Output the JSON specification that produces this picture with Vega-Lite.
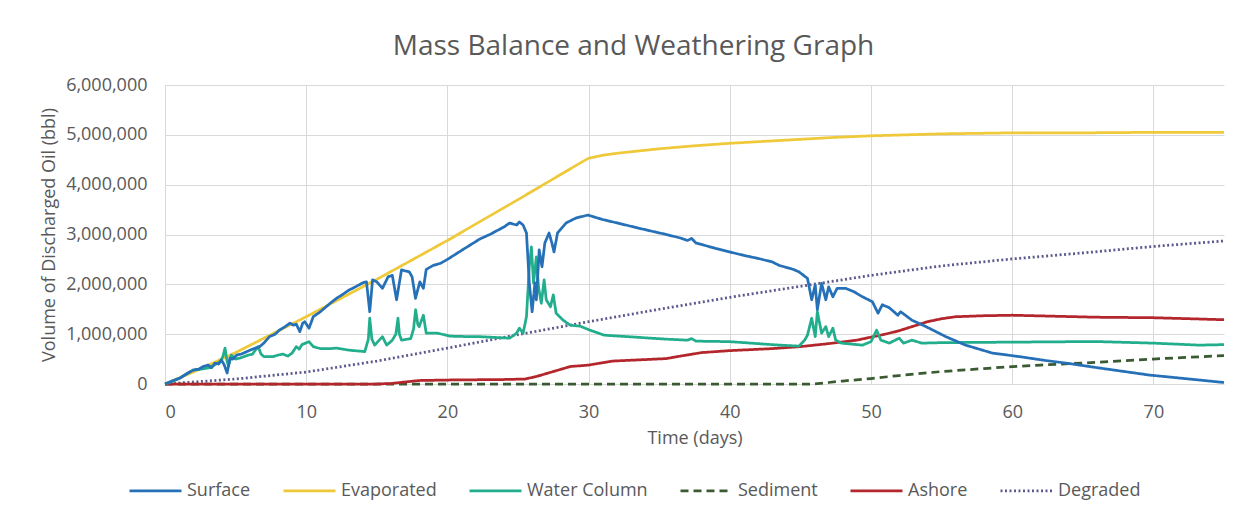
{
  "$schema": "https://vega.github.io/schema/vega-lite/v6.json",
  "width": 1059,
  "height": 299,
  "autosize": {"type": "none"},
  "padding": {"left": 165, "top": 85, "right": 30, "bottom": 131},
  "background": "white",
  "config": {
    "view": {"stroke": null},
    "font": "Open Sans",
    "legend": {
      "title": null,
      "orient": "none",
      "legendX": -37,
      "legendY": 378,
      "direction": "horizontal",
      "symbolType": "stroke",
      "symbolSize": 2704,
      "symbolStrokeWidth": 2.75,
      "labelFontSize": 18,
      "labelColor": "#595959",
      "labelOffset": 4,
      "columnPadding": 27
    }
  },
  "title": {
    "text": "Mass Balance and Weathering Graph",
    "fontSize": 28,
    "fontWeight": "normal",
    "color": "#595959",
    "offset": 15,
    "dx": -61,
    "anchor": "middle"
  },
  "datasets": {
    "rows": [
      {"series": "Evaporated", "day": 0, "volume": 0},
      {"series": "Evaporated", "day": 2, "volume": 240000},
      {"series": "Evaporated", "day": 5, "volume": 630000},
      {"series": "Evaporated", "day": 10, "volume": 1350000},
      {"series": "Evaporated", "day": 15, "volume": 2100000},
      {"series": "Evaporated", "day": 20, "volume": 2880000},
      {"series": "Evaporated", "day": 25, "volume": 3700000},
      {"series": "Evaporated", "day": 29.5, "volume": 4450000},
      {"series": "Evaporated", "day": 30, "volume": 4530000},
      {"series": "Evaporated", "day": 31, "volume": 4590000},
      {"series": "Evaporated", "day": 32, "volume": 4630000},
      {"series": "Evaporated", "day": 33, "volume": 4660000},
      {"series": "Evaporated", "day": 35, "volume": 4720000},
      {"series": "Evaporated", "day": 37.5, "volume": 4780000},
      {"series": "Evaporated", "day": 40, "volume": 4830000},
      {"series": "Evaporated", "day": 42.5, "volume": 4870000},
      {"series": "Evaporated", "day": 45, "volume": 4910000},
      {"series": "Evaporated", "day": 47.5, "volume": 4950000},
      {"series": "Evaporated", "day": 50, "volume": 4980000},
      {"series": "Evaporated", "day": 52.5, "volume": 5000000},
      {"series": "Evaporated", "day": 55, "volume": 5020000},
      {"series": "Evaporated", "day": 60, "volume": 5040000},
      {"series": "Evaporated", "day": 65, "volume": 5040000},
      {"series": "Evaporated", "day": 70, "volume": 5050000},
      {"series": "Evaporated", "day": 75, "volume": 5050000},

      {"series": "Degraded", "day": 0, "volume": 0},
      {"series": "Degraded", "day": 5, "volume": 100000},
      {"series": "Degraded", "day": 10, "volume": 240000},
      {"series": "Degraded", "day": 15, "volume": 460000},
      {"series": "Degraded", "day": 20, "volume": 720000},
      {"series": "Degraded", "day": 25, "volume": 990000},
      {"series": "Degraded", "day": 30, "volume": 1250000},
      {"series": "Degraded", "day": 35, "volume": 1500000},
      {"series": "Degraded", "day": 40, "volume": 1740000},
      {"series": "Degraded", "day": 45, "volume": 1960000},
      {"series": "Degraded", "day": 50, "volume": 2180000},
      {"series": "Degraded", "day": 55, "volume": 2370000},
      {"series": "Degraded", "day": 60, "volume": 2510000},
      {"series": "Degraded", "day": 65, "volume": 2630000},
      {"series": "Degraded", "day": 70, "volume": 2760000},
      {"series": "Degraded", "day": 75, "volume": 2870000},

      {"series": "Sediment", "day": 0, "volume": 0},
      {"series": "Sediment", "day": 46, "volume": 0},
      {"series": "Sediment", "day": 47, "volume": 30000},
      {"series": "Sediment", "day": 48, "volume": 60000},
      {"series": "Sediment", "day": 50, "volume": 110000},
      {"series": "Sediment", "day": 52, "volume": 170000},
      {"series": "Sediment", "day": 55, "volume": 250000},
      {"series": "Sediment", "day": 58, "volume": 310000},
      {"series": "Sediment", "day": 60, "volume": 350000},
      {"series": "Sediment", "day": 62, "volume": 380000},
      {"series": "Sediment", "day": 65, "volume": 420000},
      {"series": "Sediment", "day": 68, "volume": 470000},
      {"series": "Sediment", "day": 70, "volume": 500000},
      {"series": "Sediment", "day": 72, "volume": 530000},
      {"series": "Sediment", "day": 75, "volume": 570000},

      {"series": "Ashore", "day": 0, "volume": 0},
      {"series": "Ashore", "day": 15, "volume": 0},
      {"series": "Ashore", "day": 16, "volume": 10000},
      {"series": "Ashore", "day": 17, "volume": 40000},
      {"series": "Ashore", "day": 18, "volume": 70000},
      {"series": "Ashore", "day": 20, "volume": 80000},
      {"series": "Ashore", "day": 24, "volume": 90000},
      {"series": "Ashore", "day": 25.5, "volume": 100000},
      {"series": "Ashore", "day": 26.3, "volume": 150000},
      {"series": "Ashore", "day": 27.5, "volume": 250000},
      {"series": "Ashore", "day": 28.7, "volume": 350000},
      {"series": "Ashore", "day": 30, "volume": 380000},
      {"series": "Ashore", "day": 31.7, "volume": 460000},
      {"series": "Ashore", "day": 34, "volume": 490000},
      {"series": "Ashore", "day": 35.5, "volume": 510000},
      {"series": "Ashore", "day": 36.5, "volume": 560000},
      {"series": "Ashore", "day": 38, "volume": 630000},
      {"series": "Ashore", "day": 40, "volume": 670000},
      {"series": "Ashore", "day": 43, "volume": 710000},
      {"series": "Ashore", "day": 45, "volume": 750000},
      {"series": "Ashore", "day": 47, "volume": 810000},
      {"series": "Ashore", "day": 49, "volume": 880000},
      {"series": "Ashore", "day": 50, "volume": 940000},
      {"series": "Ashore", "day": 51, "volume": 1000000},
      {"series": "Ashore", "day": 52, "volume": 1070000},
      {"series": "Ashore", "day": 53, "volume": 1160000},
      {"series": "Ashore", "day": 54, "volume": 1250000},
      {"series": "Ashore", "day": 55, "volume": 1310000},
      {"series": "Ashore", "day": 56, "volume": 1350000},
      {"series": "Ashore", "day": 58, "volume": 1370000},
      {"series": "Ashore", "day": 60, "volume": 1380000},
      {"series": "Ashore", "day": 63, "volume": 1360000},
      {"series": "Ashore", "day": 66, "volume": 1340000},
      {"series": "Ashore", "day": 70, "volume": 1330000},
      {"series": "Ashore", "day": 75, "volume": 1290000},

      {"series": "Water Column", "day": 0, "volume": 0},
      {"series": "Water Column", "day": 0.5, "volume": 50000},
      {"series": "Water Column", "day": 1.06, "volume": 120000},
      {"series": "Water Column", "day": 2.0, "volume": 280000},
      {"series": "Water Column", "day": 2.6, "volume": 300000},
      {"series": "Water Column", "day": 3.2, "volume": 330000},
      {"series": "Water Column", "day": 3.5, "volume": 380000},
      {"series": "Water Column", "day": 3.9, "volume": 450000},
      {"series": "Water Column", "day": 4.1, "volume": 550000},
      {"series": "Water Column", "day": 4.25, "volume": 720000},
      {"series": "Water Column", "day": 4.4, "volume": 450000},
      {"series": "Water Column", "day": 4.5, "volume": 360000},
      {"series": "Water Column", "day": 4.7, "volume": 580000},
      {"series": "Water Column", "day": 5.0, "volume": 500000},
      {"series": "Water Column", "day": 5.3, "volume": 520000},
      {"series": "Water Column", "day": 5.6, "volume": 550000},
      {"series": "Water Column", "day": 5.9, "volume": 580000},
      {"series": "Water Column", "day": 6.2, "volume": 600000},
      {"series": "Water Column", "day": 6.4, "volume": 680000},
      {"series": "Water Column", "day": 6.6, "volume": 750000},
      {"series": "Water Column", "day": 6.8, "volume": 600000},
      {"series": "Water Column", "day": 7.0, "volume": 550000},
      {"series": "Water Column", "day": 7.65, "volume": 550000},
      {"series": "Water Column", "day": 8.0, "volume": 580000},
      {"series": "Water Column", "day": 8.35, "volume": 600000},
      {"series": "Water Column", "day": 8.7, "volume": 560000},
      {"series": "Water Column", "day": 9.0, "volume": 620000},
      {"series": "Water Column", "day": 9.3, "volume": 750000},
      {"series": "Water Column", "day": 9.5, "volume": 700000},
      {"series": "Water Column", "day": 9.7, "volume": 790000},
      {"series": "Water Column", "day": 10.2, "volume": 850000},
      {"series": "Water Column", "day": 10.5, "volume": 750000},
      {"series": "Water Column", "day": 11, "volume": 710000},
      {"series": "Water Column", "day": 11.7, "volume": 710000},
      {"series": "Water Column", "day": 12.15, "volume": 720000},
      {"series": "Water Column", "day": 13, "volume": 680000},
      {"series": "Water Column", "day": 14.15, "volume": 650000},
      {"series": "Water Column", "day": 14.4, "volume": 900000},
      {"series": "Water Column", "day": 14.5, "volume": 1320000},
      {"series": "Water Column", "day": 14.65, "volume": 900000},
      {"series": "Water Column", "day": 14.85, "volume": 780000},
      {"series": "Water Column", "day": 15.4, "volume": 950000},
      {"series": "Water Column", "day": 15.7, "volume": 780000},
      {"series": "Water Column", "day": 16.1, "volume": 880000},
      {"series": "Water Column", "day": 16.35, "volume": 1000000},
      {"series": "Water Column", "day": 16.5, "volume": 1320000},
      {"series": "Water Column", "day": 16.6, "volume": 1000000},
      {"series": "Water Column", "day": 16.75, "volume": 880000},
      {"series": "Water Column", "day": 17.4, "volume": 910000},
      {"series": "Water Column", "day": 17.6, "volume": 1100000},
      {"series": "Water Column", "day": 17.75, "volume": 1490000},
      {"series": "Water Column", "day": 17.9, "volume": 1200000},
      {"series": "Water Column", "day": 18.0, "volume": 1150000},
      {"series": "Water Column", "day": 18.3, "volume": 1380000},
      {"series": "Water Column", "day": 18.5, "volume": 1020000},
      {"series": "Water Column", "day": 19.3, "volume": 1020000},
      {"series": "Water Column", "day": 20.2, "volume": 960000},
      {"series": "Water Column", "day": 21.6, "volume": 950000},
      {"series": "Water Column", "day": 22.3, "volume": 950000},
      {"series": "Water Column", "day": 24.4, "volume": 920000},
      {"series": "Water Column", "day": 24.9, "volume": 1020000},
      {"series": "Water Column", "day": 25.1, "volume": 1120000},
      {"series": "Water Column", "day": 25.36, "volume": 1020000},
      {"series": "Water Column", "day": 25.6, "volume": 1350000},
      {"series": "Water Column", "day": 25.8, "volume": 2350000},
      {"series": "Water Column", "day": 25.95, "volume": 2750000},
      {"series": "Water Column", "day": 26.1, "volume": 2030000},
      {"series": "Water Column", "day": 26.3, "volume": 2550000},
      {"series": "Water Column", "day": 26.45, "volume": 1950000},
      {"series": "Water Column", "day": 26.65, "volume": 1620000},
      {"series": "Water Column", "day": 26.85, "volume": 2090000},
      {"series": "Water Column", "day": 27.0, "volume": 1690000},
      {"series": "Water Column", "day": 27.3, "volume": 1550000},
      {"series": "Water Column", "day": 27.5, "volume": 1790000},
      {"series": "Water Column", "day": 27.7, "volume": 1420000},
      {"series": "Water Column", "day": 28.2, "volume": 1280000},
      {"series": "Water Column", "day": 28.7, "volume": 1180000},
      {"series": "Water Column", "day": 29.4, "volume": 1160000},
      {"series": "Water Column", "day": 30.1, "volume": 1080000},
      {"series": "Water Column", "day": 31.1, "volume": 980000},
      {"series": "Water Column", "day": 32.2, "volume": 960000},
      {"series": "Water Column", "day": 35.5, "volume": 900000},
      {"series": "Water Column", "day": 37, "volume": 880000},
      {"series": "Water Column", "day": 37.3, "volume": 910000},
      {"series": "Water Column", "day": 37.6, "volume": 860000},
      {"series": "Water Column", "day": 40, "volume": 850000},
      {"series": "Water Column", "day": 43.5, "volume": 780000},
      {"series": "Water Column", "day": 44.9, "volume": 760000},
      {"series": "Water Column", "day": 45.3, "volume": 880000},
      {"series": "Water Column", "day": 45.5, "volume": 980000},
      {"series": "Water Column", "day": 45.8, "volume": 1320000},
      {"series": "Water Column", "day": 46.05, "volume": 950000},
      {"series": "Water Column", "day": 46.2, "volume": 1450000},
      {"series": "Water Column", "day": 46.5, "volume": 1020000},
      {"series": "Water Column", "day": 46.8, "volume": 1150000},
      {"series": "Water Column", "day": 47.0, "volume": 950000},
      {"series": "Water Column", "day": 47.3, "volume": 1120000},
      {"series": "Water Column", "day": 47.5, "volume": 880000},
      {"series": "Water Column", "day": 47.9, "volume": 820000},
      {"series": "Water Column", "day": 49.4, "volume": 780000},
      {"series": "Water Column", "day": 50.0, "volume": 850000},
      {"series": "Water Column", "day": 50.4, "volume": 1080000},
      {"series": "Water Column", "day": 50.7, "volume": 880000},
      {"series": "Water Column", "day": 51.3, "volume": 820000},
      {"series": "Water Column", "day": 52.0, "volume": 920000},
      {"series": "Water Column", "day": 52.3, "volume": 820000},
      {"series": "Water Column", "day": 52.9, "volume": 880000},
      {"series": "Water Column", "day": 53.6, "volume": 820000},
      {"series": "Water Column", "day": 55, "volume": 830000},
      {"series": "Water Column", "day": 60, "volume": 840000},
      {"series": "Water Column", "day": 64.8, "volume": 850000},
      {"series": "Water Column", "day": 66.2, "volume": 850000},
      {"series": "Water Column", "day": 70, "volume": 820000},
      {"series": "Water Column", "day": 73.25, "volume": 780000},
      {"series": "Water Column", "day": 75, "volume": 790000},

      {"series": "Surface", "day": 0, "volume": 0},
      {"series": "Surface", "day": 0.5, "volume": 60000},
      {"series": "Surface", "day": 1.06, "volume": 120000},
      {"series": "Surface", "day": 1.5, "volume": 200000},
      {"series": "Surface", "day": 2.0, "volume": 280000},
      {"series": "Surface", "day": 2.4, "volume": 300000},
      {"series": "Surface", "day": 2.7, "volume": 350000},
      {"series": "Surface", "day": 3.05, "volume": 380000},
      {"series": "Surface", "day": 3.3, "volume": 330000},
      {"series": "Surface", "day": 3.54, "volume": 420000},
      {"series": "Surface", "day": 3.8, "volume": 400000},
      {"series": "Surface", "day": 4.0, "volume": 480000},
      {"series": "Surface", "day": 4.2, "volume": 380000},
      {"series": "Surface", "day": 4.4, "volume": 220000},
      {"series": "Surface", "day": 4.6, "volume": 520000},
      {"series": "Surface", "day": 4.8, "volume": 500000},
      {"series": "Surface", "day": 5.07, "volume": 580000},
      {"series": "Surface", "day": 5.4, "volume": 600000},
      {"series": "Surface", "day": 5.8, "volume": 650000},
      {"series": "Surface", "day": 6.2, "volume": 700000},
      {"series": "Surface", "day": 6.7, "volume": 750000},
      {"series": "Surface", "day": 7.0, "volume": 820000},
      {"series": "Surface", "day": 7.4, "volume": 950000},
      {"series": "Surface", "day": 7.8, "volume": 1000000},
      {"series": "Surface", "day": 8.1, "volume": 1080000},
      {"series": "Surface", "day": 8.5, "volume": 1150000},
      {"series": "Surface", "day": 8.85, "volume": 1220000},
      {"series": "Surface", "day": 9.1, "volume": 1180000},
      {"series": "Surface", "day": 9.3, "volume": 1200000},
      {"series": "Surface", "day": 9.55, "volume": 1050000},
      {"series": "Surface", "day": 9.75, "volume": 1220000},
      {"series": "Surface", "day": 9.9, "volume": 1250000},
      {"series": "Surface", "day": 10.2, "volume": 1120000},
      {"series": "Surface", "day": 10.5, "volume": 1350000},
      {"series": "Surface", "day": 11, "volume": 1450000},
      {"series": "Surface", "day": 11.7, "volume": 1620000},
      {"series": "Surface", "day": 12.15, "volume": 1720000},
      {"series": "Surface", "day": 12.6, "volume": 1800000},
      {"series": "Surface", "day": 13, "volume": 1880000},
      {"series": "Surface", "day": 13.5, "volume": 1950000},
      {"series": "Surface", "day": 14, "volume": 2030000},
      {"series": "Surface", "day": 14.27, "volume": 2050000},
      {"series": "Surface", "day": 14.5, "volume": 1450000},
      {"series": "Surface", "day": 14.7, "volume": 2090000},
      {"series": "Surface", "day": 15.0, "volume": 2050000},
      {"series": "Surface", "day": 15.4, "volume": 1920000},
      {"series": "Surface", "day": 15.8, "volume": 2150000},
      {"series": "Surface", "day": 16.1, "volume": 2180000},
      {"series": "Surface", "day": 16.4, "volume": 1690000},
      {"series": "Surface", "day": 16.75, "volume": 2290000},
      {"series": "Surface", "day": 17.0, "volume": 2270000},
      {"series": "Surface", "day": 17.3, "volume": 2250000},
      {"series": "Surface", "day": 17.5, "volume": 2150000},
      {"series": "Surface", "day": 17.74, "volume": 1720000},
      {"series": "Surface", "day": 18.05, "volume": 2050000},
      {"series": "Surface", "day": 18.3, "volume": 1920000},
      {"series": "Surface", "day": 18.5, "volume": 2300000},
      {"series": "Surface", "day": 19.0, "volume": 2380000},
      {"series": "Surface", "day": 19.5, "volume": 2420000},
      {"series": "Surface", "day": 20, "volume": 2500000},
      {"series": "Surface", "day": 21, "volume": 2680000},
      {"series": "Surface", "day": 22.3, "volume": 2910000},
      {"series": "Surface", "day": 23, "volume": 3000000},
      {"series": "Surface", "day": 24, "volume": 3150000},
      {"series": "Surface", "day": 24.4, "volume": 3230000},
      {"series": "Surface", "day": 24.9, "volume": 3190000},
      {"series": "Surface", "day": 25.1, "volume": 3250000},
      {"series": "Surface", "day": 25.36, "volume": 3190000},
      {"series": "Surface", "day": 25.6, "volume": 3030000},
      {"series": "Surface", "day": 25.8, "volume": 2030000},
      {"series": "Surface", "day": 26.0, "volume": 1450000},
      {"series": "Surface", "day": 26.2, "volume": 2030000},
      {"series": "Surface", "day": 26.3, "volume": 1690000},
      {"series": "Surface", "day": 26.5, "volume": 2690000},
      {"series": "Surface", "day": 26.7, "volume": 2350000},
      {"series": "Surface", "day": 26.9, "volume": 2830000},
      {"series": "Surface", "day": 27.2, "volume": 3030000},
      {"series": "Surface", "day": 27.4, "volume": 2830000},
      {"series": "Surface", "day": 27.55, "volume": 2650000},
      {"series": "Surface", "day": 27.8, "volume": 3030000},
      {"series": "Surface", "day": 28.4, "volume": 3230000},
      {"series": "Surface", "day": 29.1, "volume": 3330000},
      {"series": "Surface", "day": 29.95, "volume": 3390000},
      {"series": "Surface", "day": 31, "volume": 3300000},
      {"series": "Surface", "day": 32.2, "volume": 3220000},
      {"series": "Surface", "day": 33.5, "volume": 3130000},
      {"series": "Surface", "day": 35.5, "volume": 3000000},
      {"series": "Surface", "day": 36.5, "volume": 2930000},
      {"series": "Surface", "day": 37, "volume": 2880000},
      {"series": "Surface", "day": 37.3, "volume": 2920000},
      {"series": "Surface", "day": 37.6, "volume": 2830000},
      {"series": "Surface", "day": 38, "volume": 2800000},
      {"series": "Surface", "day": 39, "volume": 2720000},
      {"series": "Surface", "day": 40, "volume": 2650000},
      {"series": "Surface", "day": 41, "volume": 2580000},
      {"series": "Surface", "day": 42, "volume": 2520000},
      {"series": "Surface", "day": 43, "volume": 2450000},
      {"series": "Surface", "day": 43.5, "volume": 2380000},
      {"series": "Surface", "day": 44.5, "volume": 2300000},
      {"series": "Surface", "day": 44.9, "volume": 2250000},
      {"series": "Surface", "day": 45.5, "volume": 2120000},
      {"series": "Surface", "day": 45.8, "volume": 1690000},
      {"series": "Surface", "day": 46.05, "volume": 1990000},
      {"series": "Surface", "day": 46.2, "volume": 1490000},
      {"series": "Surface", "day": 46.5, "volume": 2020000},
      {"series": "Surface", "day": 46.8, "volume": 1690000},
      {"series": "Surface", "day": 47.0, "volume": 1950000},
      {"series": "Surface", "day": 47.3, "volume": 1750000},
      {"series": "Surface", "day": 47.6, "volume": 1920000},
      {"series": "Surface", "day": 48.2, "volume": 1920000},
      {"series": "Surface", "day": 48.8, "volume": 1850000},
      {"series": "Surface", "day": 49.4, "volume": 1750000},
      {"series": "Surface", "day": 50.1, "volume": 1650000},
      {"series": "Surface", "day": 50.5, "volume": 1420000},
      {"series": "Surface", "day": 50.8, "volume": 1590000},
      {"series": "Surface", "day": 51.3, "volume": 1530000},
      {"series": "Surface", "day": 51.9, "volume": 1380000},
      {"series": "Surface", "day": 52.1, "volume": 1450000},
      {"series": "Surface", "day": 52.9, "volume": 1280000},
      {"series": "Surface", "day": 53.9, "volume": 1150000},
      {"series": "Surface", "day": 55.3, "volume": 950000},
      {"series": "Surface", "day": 56.7, "volume": 780000},
      {"series": "Surface", "day": 58.6, "volume": 620000},
      {"series": "Surface", "day": 60.5, "volume": 550000},
      {"series": "Surface", "day": 62.4, "volume": 470000},
      {"series": "Surface", "day": 63.8, "volume": 420000},
      {"series": "Surface", "day": 66.2, "volume": 320000},
      {"series": "Surface", "day": 69.7, "volume": 180000},
      {"series": "Surface", "day": 73.25, "volume": 80000},
      {"series": "Surface", "day": 75, "volume": 30000}
    ]
  },
  "data": {"name": "rows"},
  "mark": {"type": "line", "strokeWidth": 2.75, "strokeJoin": "round"},
  "encoding": {
    "x": {
      "field": "day",
      "type": "quantitative",
      "scale": {"domain": [0, 75], "nice": false},
      "axis": {
        "values": [0, 10, 20, 30, 40, 50, 60, 70],
        "title": "Time (days)",
        "grid": true,
        "gridColor": "#d9d9d9",
        "domain": false,
        "ticks": false,
        "labelFontSize": 18,
        "labelColor": "#595959",
        "labelPadding": 19,
        "titleFontSize": 18,
        "titleFontWeight": "normal",
        "titleColor": "#595959",
        "titlePadding": 8
      }
    },
    "y": {
      "field": "volume",
      "type": "quantitative",
      "scale": {"domain": [0, 6000000], "nice": false},
      "axis": {
        "values": [0, 1000000, 2000000, 3000000, 4000000, 5000000, 6000000],
        "format": ",.0f",
        "title": "Volume of Discharged Oil (bbl)",
        "grid": true,
        "gridColor": "#d9d9d9",
        "domain": false,
        "ticks": false,
        "labelFontSize": 18,
        "labelColor": "#595959",
        "labelPadding": 18,
        "titleFontSize": 18,
        "titleFontWeight": "normal",
        "titleColor": "#595959",
        "titlePadding": 7
      }
    },
    "color": {
      "field": "series",
      "type": "nominal",
      "scale": {
        "domain": ["Surface", "Evaporated", "Water Column", "Sediment", "Ashore", "Degraded"],
        "range": ["#2670B8", "#EFC93A", "#22AD8C", "#3A5A32", "#B3262B", "#5C5A8C"]
      }
    },
    "strokeDash": {
      "field": "series",
      "type": "nominal",
      "scale": {
        "domain": ["Surface", "Evaporated", "Water Column", "Sediment", "Ashore", "Degraded"],
        "range": [[1, 0], [1, 0], [1, 0], [8, 5], [1, 0], [2, 2.5]]
      }
    }
  }
}
